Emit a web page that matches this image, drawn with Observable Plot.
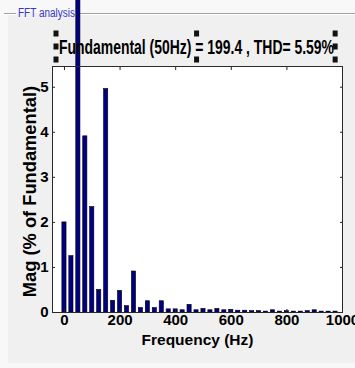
<!DOCTYPE html>
<html>
<head>
<meta charset="utf-8">
<script src="https://cdn.jsdelivr.net/npm/d3@7"></script>
<script src="https://cdn.jsdelivr.net/npm/@observablehq/plot@0.6"></script>
<style>
  html, body { margin: 0; padding: 0; background: #f8f8f8; }
  #fig { position: relative; width: 355px; height: 368px; overflow: hidden; }
</style>
</head>
<body>
<div id="fig"></div>
<script>
// Texts
const panelTitle = "FFT analysis";
const titleText = "Fundamental (50Hz) = 199.4 , THD= 5.59%";
const xLabel = "Frequency (Hz)";
const yLabel = "Mag (% of Fundamental)";

// Harmonic spectrum: frequency (Hz) and magnitude (% of fundamental)
const freqs = [0, 25, 50, 75, 100, 125, 150, 175, 200, 225,
               250, 275, 300, 325, 350, 375, 400, 425, 450, 475,
               500, 525, 550, 575, 600, 625, 650, 675, 700, 725,
               750, 775, 800, 825, 850, 875, 900, 925, 950, 975];
const mags = [2.00, 1.25, 100, 3.91, 2.34, 0.50, 4.96, 0.26, 0.48, 0.14,
              0.91, 0.10, 0.25, 0.10, 0.25, 0.07, 0.07, 0.05, 0.17, 0.05,
              0.08, 0.05, 0.08, 0.05, 0.06, 0.04, 0.04, 0.03, 0.03, 0.02,
              0.05, 0.02, 0.03, 0.02, 0.02, 0.03, 0.05, 0.02, 0.02, 0.02];

// Axis ticks
const xTicks = [0, 200, 400, 600, 800, 1000];
const yTicks = [0, 1, 2, 3, 4, 5];

const data = freqs.map((f, i) => ({f, mag: mags[i]}));
const halfBar = 7.5; // Hz on each side of a bin

const narrow = "'Liberation Sans Narrow','Arial Narrow','Liberation Sans',Arial,sans-serif";
const sans = "'Liberation Sans',Arial,Helvetica,sans-serif";

const chart = Plot.plot({
  width: 355,
  height: 368,
  marginLeft: 52,
  marginRight: 13,
  marginTop: 66,
  marginBottom: 56,
  style: {background: "transparent", fontFamily: narrow, fontSize: "15px", fontWeight: "bold", color: "#000"},
  x: {domain: [-43, 1000]},
  y: {domain: [0, 5.46]},
  marks: [
    Plot.frame({fill: "white", stroke: "none"}),
    Plot.rect(data, {
      x1: d => d.f - halfBar, x2: d => d.f + halfBar, y1: 0, y2: "mag",
      fill: "#000080", stroke: "#000010", strokeWidth: 0.6, ariaLabel: "spectrum"
    }),
    Plot.axisX(xTicks, {anchor: "bottom", tickSize: -3, tickPadding: 5, tickFormat: d => String(d), label: null, stroke: "#222"}),
    Plot.axisX(xTicks, {anchor: "top", tickSize: -3, tickFormat: () => "", label: null, stroke: "#222"}),
    Plot.axisY(yTicks, {anchor: "left", tickSize: -3, tickPadding: 7, tickFormat: d => String(d), label: null, stroke: "#222"}),
    Plot.axisY(yTicks, {anchor: "right", tickSize: -3, tickFormat: () => "", label: null, stroke: "#222"}),
    Plot.frame({stroke: "#2a2a2a"}),
    Plot.text([xLabel], {frameAnchor: "bottom", lineAnchor: "bottom", dy: 32,
      fontSize: 15.5, fontFamily: sans, fontWeight: "bold", ariaLabel: "x-label"}),
    Plot.text([yLabel], {frameAnchor: "left", textAnchor: "middle", lineAnchor: "bottom", rotate: -90, dx: -17, dy: 2,
      fontSize: 18.3, fontFamily: sans, fontWeight: "bold", ariaLabel: "y-label"})
  ]
});

document.getElementById("fig").appendChild(chart);
const svg = d3.select(chart);

// Fit the x label length
svg.select('g[aria-label="x-label"] text').attr("textLength", 104).attr("lengthAdjust", "spacingAndGlyphs");

// Panel background with etched title border
const deco = svg.insert("g", ":first-child");
deco.append("rect").attr("x", 8).attr("y", 13).attr("width", 347).attr("height", 350).attr("fill", "#f0f0f0");
deco.append("path").attr("d", "M4,13.5H16M78,13.5H355").attr("stroke", "#a0a0a0").attr("fill", "none");
deco.append("path").attr("d", "M4,14.5H16M78,14.5H355").attr("stroke", "#ffffff").attr("fill", "none");
deco.append("text").text(panelTitle)
  .attr("x", 18).attr("y", 17).attr("text-anchor", "start")
  .attr("fill", "#3838c8").attr("font-family", narrow).attr("font-size", 12).attr("font-weight", "normal")
  .attr("textLength", 57).attr("lengthAdjust", "spacingAndGlyphs");

// Title text sits beneath the bars
const title = svg.insert("text", 'g[aria-label="spectrum"]').text(titleText)
  .attr("x", 59).attr("y", 53.5).attr("text-anchor", "start")
  .attr("fill", "#000").attr("font-family", sans).attr("font-size", 20).attr("font-weight", "bold")
  .attr("textLength", 275).attr("lengthAdjust", "spacingAndGlyphs");

// Clip the off-scale fundamental bar at the panel top
svg.append("defs").append("clipPath").attr("id", "spectrum-clip")
  .append("rect").attr("x", 0).attr("y", 20).attr("width", 355).attr("height", 348);
svg.select('g[aria-label="spectrum"]').attr("clip-path", "url(#spectrum-clip)");

// Selection handles around the title text
const bb = title.node().getBBox();
const hx = [bb.x - 3, bb.x + bb.width / 2, bb.x + bb.width + 1];
const hy = [bb.y - 2, bb.y + bb.height / 2, bb.y + bb.height + 2];
const handles = svg.append("g").attr("fill", "#111");
hx.forEach((x, i) => hy.forEach((y, j) => {
  if (i === 1 && j === 1) return;
  handles.append("rect").attr("x", x - 2.5).attr("y", y - 3).attr("width", 5).attr("height", 6);
}));
</script>
</body>
</html>
